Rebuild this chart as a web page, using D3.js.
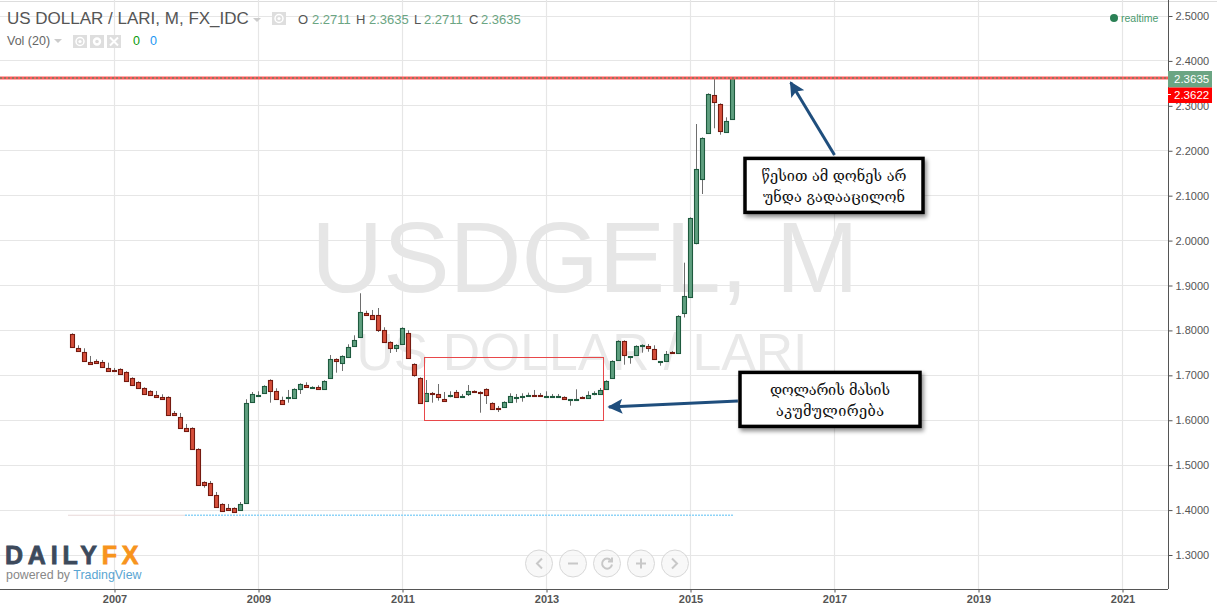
<!DOCTYPE html>
<html><head><meta charset="utf-8">
<script src="https://cdn.jsdelivr.net/npm/d3@7"></script>
<style>html,body{margin:0;padding:0;background:#fff;overflow:hidden}svg{display:block}text{font-family:"Liberation Sans",Arial,sans-serif}</style>
</head><body><svg id="c" width="1217" height="611"></svg>
<script>
const firstMonthOffset = -7; // June 2006, in months from January 2007
const opens = [1.7936,1.7624,1.7535,1.7313,1.7335,1.7313,1.7179,1.7119,1.7157,1.7090,
1.6957,1.6867,1.6734,1.6667,1.6578,1.6533,1.6533,1.6177,1.6088,1.5843,
1.5843,1.5376,1.4641,1.4619,1.4352,1.4152,1.4062,1.4062,1.4009,1.4165,
1.6396,1.6547,1.6600,1.6912,1.6667,1.6467,1.6502,1.6489,1.6703,1.6801,
1.6712,1.6756,1.6689,1.6948,1.7379,1.7282,1.7402,1.7647,1.7860,1.8404,
1.8359,1.8359,1.8025,1.7758,1.7616,1.7691,1.7958,1.7268,1.6957,1.6422,
1.6607,1.6600,1.6489,1.6533,1.6645,1.6525,1.6578,1.6667,1.6645,1.6712,
1.6400,1.6289,1.6289,1.6400,1.6489,1.6533,1.6547,1.6562,1.6562,1.6525,
1.6525,1.6525,1.6533,1.6458,1.6458,1.6518,1.6502,1.6578,1.6578,1.6689,
1.6934,1.7335,1.7780,1.7415,1.7446,1.7660,1.7669,1.7602,1.7304,1.7313,
1.7520,1.7491,1.8377,1.8738,1.9940,2.1364,2.2388,2.3257,2.3056,2.2411,2.2711];
const closes = [1.7638,1.7549,1.7313,1.7259,1.7282,1.7192,1.7103,1.7081,1.7023,1.6881,
1.6792,1.6725,1.6591,1.6569,1.6525,1.6480,1.6124,1.6124,1.5834,1.5768,
1.5367,1.4566,1.4566,1.4343,1.4076,1.3987,1.4002,1.3964,1.4152,1.6400,
1.6600,1.6578,1.6778,1.6658,1.6467,1.6369,1.6533,1.6712,1.6823,1.6734,
1.6756,1.6689,1.6890,1.7379,1.7313,1.7446,1.7647,1.7802,1.8426,1.8350,
1.8261,1.8010,1.7736,1.7616,1.7691,1.8070,1.7379,1.7014,1.6378,1.6623,
1.6592,1.6511,1.6422,1.6578,1.6511,1.6540,1.6667,1.6652,1.6636,1.6556,
1.6244,1.6244,1.6422,1.6556,1.6533,1.6556,1.6569,1.6547,1.6533,1.6540,
1.6540,1.6540,1.6480,1.6473,1.6473,1.6502,1.6578,1.6607,1.6689,1.6890,
1.7335,1.7780,1.7446,1.7431,1.7669,1.7691,1.7616,1.7357,1.7319,1.7491,
1.7504,1.8337,1.8782,2.0518,2.1609,2.2299,2.3279,2.3079,2.2433,2.2678,2.3635];
const highs = [1.7936,1.7669,1.7602,1.7431,1.7357,1.7342,1.7282,1.7164,1.7157,1.7090,
1.6957,1.6867,1.6734,1.6667,1.6652,1.6578,1.6533,1.6206,1.6162,1.5917,
1.5843,1.5376,1.4641,1.4648,1.4403,1.4152,1.4136,1.4062,1.4180,1.6467,
1.6629,1.6645,1.6778,1.6912,1.6712,1.6525,1.6674,1.6712,1.6823,1.6845,
1.6756,1.6778,1.6890,1.7453,1.7379,1.7446,1.7691,1.7891,1.8827,1.8439,
1.8455,1.8499,1.8070,1.7758,1.7691,1.8070,1.8003,1.7268,1.6957,1.6896,
1.6629,1.6807,1.6629,1.6645,1.6674,1.6585,1.6785,1.6667,1.6645,1.6712,
1.6400,1.6318,1.6422,1.6600,1.6585,1.6600,1.6614,1.6674,1.6607,1.6645,
1.6585,1.6585,1.6533,1.6473,1.6689,1.6533,1.6645,1.6645,1.6718,1.6890,
1.7335,1.7780,1.7780,1.7431,1.7669,1.7691,1.7698,1.7669,1.7319,1.7542,
1.7542,1.8337,1.9508,2.0518,2.2595,2.2299,2.3279,2.3604,2.3056,2.2745,2.3635];
const lows = [1.7638,1.7549,1.7313,1.7259,1.7282,1.7192,1.7103,1.7081,1.7023,1.6881,
1.6792,1.6725,1.6591,1.6569,1.6525,1.6480,1.6124,1.6124,1.5834,1.5768,
1.5367,1.4566,1.4499,1.4343,1.4076,1.3958,1.4002,1.3964,1.4009,1.4165,
1.6396,1.6547,1.6600,1.6391,1.6467,1.6369,1.6391,1.6489,1.6585,1.6734,
1.6712,1.6689,1.6689,1.6948,1.7059,1.7097,1.7402,1.7647,1.7860,1.8321,
1.8261,1.7965,1.7736,1.7498,1.7520,1.7691,1.7379,1.6970,1.6378,1.6422,
1.6391,1.6436,1.6422,1.6511,1.6511,1.6525,1.6540,1.6652,1.6168,1.6362,
1.6244,1.6184,1.6289,1.6400,1.6391,1.6413,1.6525,1.6525,1.6533,1.6525,
1.6496,1.6525,1.6458,1.6324,1.6458,1.6502,1.6502,1.6556,1.6578,1.6689,
1.6934,1.7335,1.7237,1.7259,1.7446,1.7504,1.7526,1.7357,1.7215,1.7313,
1.7475,1.7491,1.8288,1.8738,1.9917,2.1037,2.2388,2.2500,2.2357,2.2411,2.2711];
const yTicks = [1.3,1.4,1.5,1.6,1.7,1.8,1.9,2.0,2.1,2.2,2.3,2.4,2.5];
const yearLabels = [2007,2009,2011,2013,2015,2017,2019,2021];
const lastPrice = 2.3635, prevLevel = 2.3622, supportLevel = 1.3885;
const ohlcLabels = ["O","H","L","C"], ohlcValues = ["2.2711","2.3635","2.2711","2.3635"];
const noteOne = ["წესით ამ დონეს არ","უნდა გადააცილონ"], noteTwo = ["დოლარის მასის","აკუმულირება"];

const svg = d3.select("#c");
const W = 1217, H = 611, plotR = 1168, plotB = 589;
const x = d3.scaleLinear().domain([0,168]).range([114.5,1122.5]);
const y = d3.scaleLinear().domain([1.3,2.5]).range([555,16]);
const monthOfYear = yr => (yr-2007)*12;
const GRID = "#e6e6e6", AX = "#555", GREEN="#5f9f7f", GREENS="#1e5a3e", RED="#d64f3b", REDS="#751a10";

// defs
const defs = svg.append("defs");
const flt = defs.append("filter").attr("id","sh").attr("x","-10%").attr("y","-15%").attr("width","125%").attr("height","140%");
flt.append("feDropShadow").attr("dx",2).attr("dy",3).attr("stdDeviation",2).attr("flood-color","#000").attr("flood-opacity",.45);
const mk = defs.append("marker").attr("id","ah").attr("viewBox","0 0 10 10").attr("refX",9).attr("refY",5)
 .attr("markerWidth",5).attr("markerHeight",5).attr("orient","auto");
mk.append("path").attr("d","M0,0L10,5L0,10L2,5Z").attr("fill","#1f4e7d");

// frame
svg.append("line").attr("x1",0).attr("x2",W).attr("y1",1.5).attr("y2",1.5).attr("stroke","#ddd");

// grid
const g = svg.append("g");
g.selectAll(".h").data(yTicks).join("line").attr("x1",0).attr("x2",plotR)
 .attr("y1",d=>Math.floor(y(d))+.5).attr("y2",d=>Math.floor(y(d))+.5).attr("stroke",GRID).attr("stroke-width",1.2);
g.selectAll(".v").data(yearLabels).join("line").attr("y1",0).attr("y2",plotB)
 .attr("x1",d=>x(monthOfYear(d))).attr("x2",d=>x(monthOfYear(d))).attr("stroke",GRID).attr("stroke-width",1.2);

// watermark
svg.append("text").attr("x",585).attr("y",292).attr("text-anchor","middle").attr("font-size",99.5).attr("fill","#e6e6e6").text("USDGEL, M");
svg.append("text").attr("x",582).attr("y",370).attr("text-anchor","middle").attr("font-size",51.7).attr("fill","#e9e9e9").text("US DOLLAR / LARI");

// support line
svg.append("line").attr("x1",68).attr("x2",185).attr("y1",y(supportLevel)).attr("y2",y(supportLevel)).attr("stroke","#e8d8d8").attr("stroke-width",1);
svg.append("line").attr("x1",185).attr("x2",734).attr("y1",y(supportLevel)).attr("y2",y(supportLevel)).attr("stroke","#8fd4f7").attr("stroke-width",1.6).attr("stroke-dasharray","2,1");

// candles
const data = opens.map((o,i)=>({m:firstMonthOffset+i,o,c:closes[i],h:highs[i],l:lows[i]}));
const cg = svg.append("g");
cg.selectAll(".w").data(data).join("line")
 .attr("x1",d=>x(d.m)).attr("x2",d=>x(d.m)).attr("y1",d=>y(d.h)).attr("y2",d=>y(d.l)).attr("stroke","#6e6e6e").attr("stroke-width",1);
cg.selectAll(".b").data(data).join("rect")
 .attr("x",d=>x(d.m)-2).attr("width",4)
 .attr("y",d=>Math.round(y(Math.max(d.o,d.c))+.4)+.5)
 .attr("height",d=>Math.max(1,Math.round(Math.abs(y(d.o)-y(d.c))-.8)))
 .attr("fill",d=>d.c>=d.o?GREEN:RED).attr("stroke",d=>d.c>=d.o?GREENS:REDS).attr("stroke-width",1.1);

// price lines
const lineY = Math.round(y(lastPrice)+.6);
svg.append("line").attr("x1",0).attr("x2",plotR).attr("y1",lineY).attr("y2",lineY).attr("stroke","#ff5a5a").attr("stroke-width",3);
svg.append("line").attr("x1",0).attr("x2",plotR).attr("y1",lineY).attr("y2",lineY).attr("stroke","#2e8f63").attr("stroke-width",1).attr("stroke-dasharray","2,2");

// rectangle (accumulation zone)
const zone = {m0:51.6,m1:81.5,top:1.7395,bot:1.5995};
svg.append("rect").attr("x",Math.floor(x(zone.m0))+.5).attr("y",Math.floor(y(zone.top))+.5).attr("width",Math.round(x(zone.m1)-x(zone.m0))).attr("height",Math.round(y(zone.bot)-y(zone.top)))
 .attr("fill","none").attr("stroke","#e8484a").attr("stroke-width",1);

// arrows
function arrow(m1,v1,m2,v2){
 svg.append("line").attr("x1",x(m1)).attr("y1",y(v1)).attr("x2",x(m2)).attr("y2",y(v2))
  .attr("stroke","#1f4e7d").attr("stroke-width",3).attr("marker-end","url(#ah)");
}
arrow(120,2.1905,112.7,2.352);
arrow(103.9,1.6428,82.4,1.6295);

// notes
function note(bx,by,bw,bh,lines,fs,widths){
 svg.append("rect").attr("x",bx).attr("y",by).attr("width",bw).attr("height",bh).attr("fill","#fff").attr("stroke","#000").attr("stroke-width",3.5).attr("filter","url(#sh)");
 lines.forEach((t,i)=>svg.append("text").attr("x",bx+bw/2).attr("y",by+23+i*21).attr("text-anchor","middle")
  .attr("font-size",fs).attr("fill","#111").attr("textLength",widths[i]).attr("lengthAdjust","spacing").style("font-family","'DejaVu Serif','DejaVu Sans',serif").text(t));
}
note(745,158.4,178,54,noteOne,14.5,[145,142]);
note(740,372.4,180,54,noteTwo,14.5,[120,108]);

// axes
const yAxis = d3.axisRight(y).tickValues(yTicks).tickFormat(d3.format(".4f")).tickSize(4).tickPadding(3);
const ya = svg.append("g").attr("transform",`translate(${plotR+.5},0)`).call(yAxis);
ya.select(".domain").attr("d",`M0,0V${plotB}`).attr("stroke",AX);
ya.selectAll("line").attr("stroke",AX);
ya.selectAll("text").attr("fill",AX).attr("font-size",11).style("font-family","'Liberation Sans',Arial,sans-serif");
const xAxis = d3.axisBottom(x).tickValues(yearLabels.map(monthOfYear)).tickFormat(d=>String(2007+d/12)).tickSize(3).tickPadding(3);
const xa = svg.append("g").attr("transform",`translate(0,${plotB+.5})`).call(xAxis);
xa.select(".domain").attr("d",`M0,0H${plotR}`).attr("stroke",AX);
xa.selectAll("line").attr("stroke",AX);
xa.selectAll("text").attr("fill",AX).attr("font-size",11).attr("font-weight","bold").style("font-family","'Liberation Sans',Arial,sans-serif");

// price tags
function tag(yy,h,col,label){
 svg.append("rect").attr("x",plotR).attr("y",yy).attr("width",44).attr("height",h).attr("fill",col);
 svg.append("text").attr("x",plotR+6).attr("y",yy+h/2+4).attr("font-size",11.5).attr("fill","#fff").text(label);
}
tag(71,16.5,"#6ba583",ohlcValues[3]);
tag(87.5,15.5,"#ff0000",prevLevel.toFixed(4));
svg.append("line").attr("x1",plotR).attr("x2",plotR+3).attr("y1",94.5).attr("y2",94.5).attr("stroke","#fff");

// header
svg.append("text").attr("x",7).attr("y",24).attr("font-size",17).attr("fill","#555").text("US DOLLAR / LARI, M, FX_IDC");
const caret=(cx,cy)=>svg.append("path").attr("d",`M${cx-4},${cy-2}h8l-4,4z`).attr("fill","#ccc");
caret(257,20); caret(58,41);
function icon(ix,iy,w,kind){
 svg.append("rect").attr("x",ix).attr("y",iy).attr("width",w).attr("height",13).attr("fill","#dedede");
 const cx=ix+w/2, cy=iy+6.5;
 if(kind==="x"){svg.append("path").attr("d",`M${cx-4},${cy-4}L${cx+4},${cy+4}M${cx+4},${cy-4}L${cx-4},${cy+4}`).attr("stroke","#fff").attr("stroke-width",2);}
 else {svg.append("circle").attr("cx",cx).attr("cy",cy).attr("r",kind==="g"?3:4).attr("fill","none").attr("stroke","#fff").attr("stroke-width",kind==="g"?2.4:1.5);
  if(kind==="e")svg.append("circle").attr("cx",cx).attr("cy",cy).attr("r",1.6).attr("fill","#fff");}
}
icon(272,12,14,"e"); icon(73,35,14,"e"); icon(90,35,14,"g"); icon(107,35,14,"x");
const ohlcX=[298,356,414,469], valX=[312,369,424,481];
ohlcLabels.forEach((l,i)=>{
 svg.append("text").attr("x",ohlcX[i]).attr("y",24).attr("font-size",13).attr("fill","#555").text(l);
 svg.append("text").attr("x",valX[i]).attr("y",24).attr("font-size",13).attr("fill","#6ba583").text(ohlcValues[i]);
});
svg.append("text").attr("x",7).attr("y",45).attr("font-size",12.5).attr("fill","#666").text("Vol (20)");
svg.append("text").attr("x",133).attr("y",45).attr("font-size",12.5).attr("fill","#0b9a0b").text("0");
svg.append("text").attr("x",150).attr("y",45).attr("font-size",12.5).attr("fill","#2196f3").text("0");

// realtime
svg.append("circle").attr("cx",1114).attr("cy",18).attr("r",4).attr("fill","#2a8055");
svg.append("text").attr("x",1121).attr("y",22).attr("font-size",10.5).attr("fill","#4a9a6e").text("realtime");

// logo
const lg = svg.append("text").attr("x",5).attr("y",564).attr("font-size",25).attr("font-weight","bold").attr("letter-spacing",4.8).attr("stroke-width",.8).style("font-family","'Liberation Sans',Arial,sans-serif");
lg.append("tspan").attr("fill","#3d4a5c").attr("stroke","#3d4a5c").text("DAILY");
lg.append("tspan").attr("fill","#f7941d").attr("stroke","#f7941d").text("FX");
const pw = svg.append("text").attr("x",6).attr("y",579).attr("font-size",12.4);
pw.append("tspan").attr("fill","#888").text("powered by ");
pw.append("tspan").attr("fill","#5aa5d2").text("TradingView");

// nav buttons
const nav=[539,573,607,641,675];
const navGlyph=["M3,-5L-2,0L3,5","M-5,0H5","M4,-3A5,5 0 1 0 5,1M5,-6V-2H1","M-5,0H5M0,-5V5","M-3,-5L2,0L-3,5"];
const ng=svg.append("g").selectAll("g").data(nav).join("g").attr("transform",d=>`translate(${d},563.5)`);
ng.append("circle").attr("r",13.5).attr("fill","#f5f5f5").attr("fill-opacity",.7).attr("stroke","#d8d8d8");
ng.append("path").attr("d",(d,i)=>navGlyph[i]).attr("fill","none").attr("stroke","#c8c8c8").attr("stroke-width",2);
</script></body></html>
